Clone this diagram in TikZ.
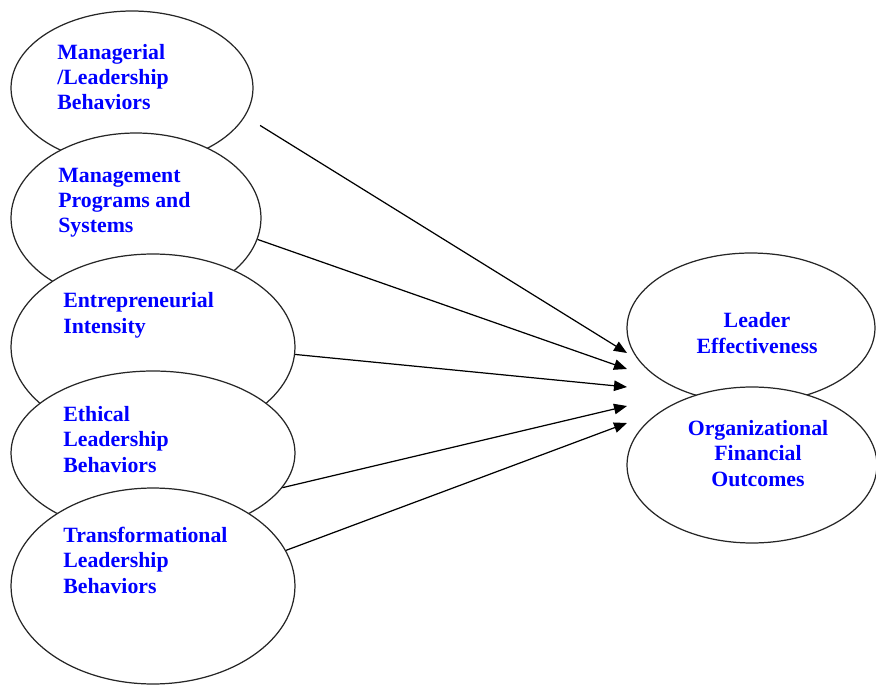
\documentclass[tikz,border=0pt]{standalone}
\usepackage{fontspec}
\setmainfont{Liberation Serif}
\usetikzlibrary{shapes.geometric,arrows.meta}

\definecolor{lblblue}{rgb}{0,0,1}

\tikzset{
  oval/.style={ellipse, draw=black!85, line width=0.7pt, fill=white, inner sep=0pt},
  lbl/.style={text=lblblue, font=\bfseries\fontsize{12.4}{14.5}\selectfont, inner sep=0pt},
  arr/.style={-{Triangle[length=2.6mm,width=2.1mm]}, line width=0.7pt}
}

\begin{document}
\begin{tikzpicture}[x=0.02cm,y=-0.02cm]
            \useasboundingbox (0,0) rectangle (876,686);

            % left column, each oval drawn over the one above it
            % (text nodes sit on the baseline of their last line)
            \node[oval, minimum width=4.84cm, minimum height=3.08cm] (mgr) at (132,88) {};
            \node[lbl, anchor=base west, align=left] (mgrtxt) at (57,110) {Managerial\\/Leadership\\Behaviors};
            \node[oval, minimum width=5.0cm, minimum height=3.4cm] (prog) at (136,218) {};
            \node[lbl, anchor=base west, align=left] (progtxt) at (58,233) {Management\\Programs and\\Systems};
            \node[oval, minimum width=5.68cm, minimum height=3.72cm] (ent) at (153,347) {};
            \node[lbl, anchor=base west, align=left] (enttxt) at (63,333) {Entrepreneurial\\Intensity};
            \node[oval, minimum width=5.68cm, minimum height=3.28cm] (eth) at (153,453) {};
            \node[lbl, anchor=base west, align=left] (ethtxt) at (63,472) {Ethical\\Leadership\\Behaviors};
            \node[oval, minimum width=5.68cm, minimum height=3.92cm] (trans) at (153,586) {};
            \node[lbl, anchor=base west, align=left] (transtxt) at (63,593) {Transformational\\Leadership\\Behaviors};

            % right column
            \node[oval, minimum width=4.96cm, minimum height=3.0cm] (lead) at (751,328) {};
            \node[lbl, anchor=base, align=center] (leadtxt) at (757,353) {Leader\\Effectiveness};
            \node[oval, minimum width=5.0cm, minimum height=3.12cm] (fin) at (752,465) {};
            \node[lbl, anchor=base, align=center] (fintxt) at (758,486) {Organizational\\Financial\\Outcomes};

            % arrow heads meet here
            \coordinate (tip1) at (627,353);
            \coordinate (tip2) at (627,369);
            \coordinate (tip3) at (627,387);
            \coordinate (tip4) at (627,406);
            \coordinate (tip5) at (627,423);

            \draw[arr, shorten <=3.5mm] (mgr.-14) -- (tip1);
            \draw[arr] (prog.-10) -- (tip2);
            \draw[arr] (ent.-3.6) -- (tip3);
            \draw[arr] (eth.-15) -- (tip4);
            \draw[arr] (trans.15) -- (tip5);
        \end{tikzpicture}
\end{document}
